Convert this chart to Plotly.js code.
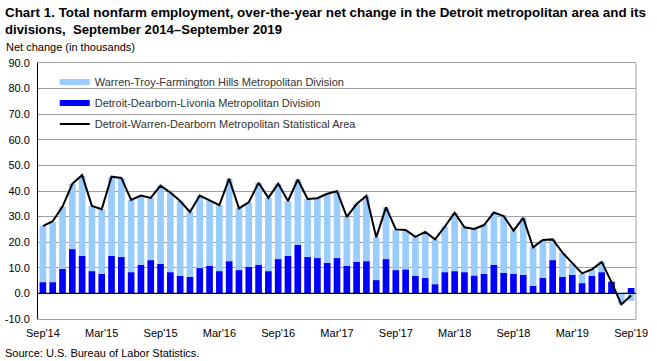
<!DOCTYPE html>
<html>
<head>
<meta charset="utf-8">
<script src="https://cdn.plot.ly/plotly-3.0.1.min.js"></script>
<style>
  html, body { margin: 0; padding: 0; background: #ffffff; }
  #chart { width: 657px; height: 361px; }
</style>
</head>
<body>
<div id="chart"></div>
<script>
// Months (categories)
const months = [
  "Sep 2014","Oct 2014","Nov 2014","Dec 2014",
  "Jan 2015","Feb 2015","Mar 2015","Apr 2015","May 2015","Jun 2015","Jul 2015","Aug 2015","Sep 2015","Oct 2015","Nov 2015","Dec 2015",
  "Jan 2016","Feb 2016","Mar 2016","Apr 2016","May 2016","Jun 2016","Jul 2016","Aug 2016","Sep 2016","Oct 2016","Nov 2016","Dec 2016",
  "Jan 2017","Feb 2017","Mar 2017","Apr 2017","May 2017","Jun 2017","Jul 2017","Aug 2017","Sep 2017","Oct 2017","Nov 2017","Dec 2017",
  "Jan 2018","Feb 2018","Mar 2018","Apr 2018","May 2018","Jun 2018","Jul 2018","Aug 2018","Sep 2018","Oct 2018","Nov 2018","Dec 2018",
  "Jan 2019","Feb 2019","Mar 2019","Apr 2019","May 2019","Jun 2019","Jul 2019","Aug 2019","Sep 2019"
];

// Detroit-Dearborn-Livonia Metropolitan Division (thousands)
const detroitDearborn = [
  4.4, 4.4, 9.6, 17.3,
  14.6, 8.7, 7.6, 14.6, 14.2, 8.3, 11.1, 13.0, 11.5, 8.3, 6.8, 6.4,
  9.9, 10.7, 8.7, 12.6, 9.1, 10.3, 11.1, 8.7, 13.4, 14.6, 18.9, 14.2,
  13.8, 11.9, 13.8, 10.7, 12.3, 12.6, 5.2, 13.4, 9.1, 9.4, 6.8, 6.0,
  3.6, 8.3, 8.7, 8.3, 7.0, 7.6, 11.1, 8.0, 7.6, 7.2, 2.9, 6.0,
  13.0, 6.4, 7.2, 4.0, 6.8, 8.3, 4.6, 0.0, 2.1
];

// Warren-Troy-Farmington Hills Metropolitan Division (thousands)
const warrenTroy = [
  21.9, 23.5, 24.3, 25.5,
  31.3, 25.5, 25.3, 31.0, 30.9, 28.2, 27.1, 24.3, 30.6, 31.1, 29.3, 25.4,
  28.3, 25.5, 25.8, 32.2, 24.4, 25.3, 32.1, 28.6, 29.5, 21.5, 25.6, 22.7,
  23.4, 27.0, 26.1, 19.2, 22.6, 25.5, 16.7, 20.2, 15.9, 15.1, 15.4, 17.4,
  17.5, 17.8, 22.7, 17.7, 18.3, 19.3, 20.5, 22.5, 16.9, 22.3, 15.4, 14.9,
  8.1, 9.5, 4.5, 3.5, 2.7, 4.1, 0.0, -4.3, -2.9
];

// Detroit-Warren-Dearborn Metropolitan Statistical Area (thousands)
const detroitMSA = [
  26.3, 28.2, 33.9, 42.8,
  46.2, 34.2, 32.9, 45.6, 45.1, 36.5, 38.2, 37.3, 42.1, 39.4, 36.1, 31.8,
  38.2, 36.2, 34.5, 44.8, 33.2, 35.6, 43.2, 37.3, 42.9, 36.1, 44.5, 36.9,
  37.2, 38.9, 39.9, 29.9, 34.9, 38.1, 21.9, 33.6, 25.0, 24.8, 22.1, 24.0,
  21.1, 26.1, 31.5, 25.8, 25.2, 26.7, 31.6, 30.2, 24.5, 29.5, 18.0, 20.9,
  21.1, 15.9, 11.7, 7.8, 9.4, 12.3, 4.4, -4.3, -0.8
];

// Tick labels
const tickMonths = ["Sep 2014","Mar 2015","Sep 2015","Mar 2016","Sep 2016","Mar 2017","Sep 2017","Mar 2018","Sep 2018","Mar 2019","Sep 2019"];
const tickLabels = ["Sep'14","Mar'15","Sep'15","Mar'16","Sep'16","Mar'17","Sep'17","Mar'18","Sep'18","Mar'19","Sep'19"];
const yTicks = [-10, 0, 10, 20, 30, 40, 50, 60, 70, 80, 90];
const yTickLabels = ["-10.0","0.0","10.0","20.0","30.0","40.0","50.0","60.0","70.0","80.0","90.0"];

const names = [
  "Warren-Troy-Farmington Hills Metropolitan Division",
  "Detroit-Dearborn-Livonia Metropolitan Division",
  "Detroit-Warren-Dearborn Metropolitan Statistical Area"
];

const titleLine1 = "Chart 1. Total nonfarm employment, over-the-year net change in the Detroit metropolitan area and its";
const titleLine2 = "divisions,  September 2014\u2013September 2019";

const LIGHT = "#99CCFF";
const DARK = "#0000FF";
const FONT = "'Liberation Sans', Arial, sans-serif";

const traces = [
  { type: "bar", x: months, y: detroitDearborn, name: names[1], marker: { color: DARK },
    legendgroup: "g2", showlegend: false },
  { type: "bar", x: months, y: warrenTroy, name: names[0], marker: { color: LIGHT },
    legendgroup: "g1", showlegend: false },
  { type: "scatter", mode: "lines", x: months, y: detroitMSA, name: names[2],
    line: { color: "#000000", width: 2 }, legendgroup: "g3", showlegend: false },
  // legend-only entries (short thick strokes like the original key)
  { type: "scatter", mode: "lines", x: [null], y: [null], name: names[0],
    line: { color: LIGHT, width: 6 }, legendgroup: "g1", legendrank: 1 },
  { type: "scatter", mode: "lines", x: [null], y: [null], name: names[1],
    line: { color: DARK, width: 6 }, legendgroup: "g2", legendrank: 2 },
  { type: "scatter", mode: "lines", x: [null], y: [null], name: names[2],
    line: { color: "#000000", width: 2 }, legendgroup: "g3", legendrank: 3 }
];

const layout = {
  width: 657, height: 361,
  margin: { l: 38, r: 21, t: 63, b: 42, pad: 0 },
  paper_bgcolor: "#ffffff", plot_bgcolor: "#ffffff",
  font: { family: FONT, size: 11, color: "#000000" },
  barmode: "relative",
  bargap: 0.32,
  showlegend: true,
  legend: {
    x: 0.028, xanchor: "left", y: 0.982, yanchor: "top",
    bgcolor: "rgba(0,0,0,0)", borderwidth: 0,
    font: { family: FONT, size: 11, color: "#333333" },
    traceorder: "grouped", tracegroupgap: 2, itemwidth: 30
  },
  xaxis: {
    type: "category",
    categoryorder: "array", categoryarray: months,
    range: [-0.5, months.length - 0.5],
    tickmode: "array", tickvals: tickMonths, ticktext: tickLabels,
    tickangle: 0, ticklabelstandoff: 4,
    ticks: "", showgrid: false, zeroline: false,
    showline: true, linecolor: "#a0a0a0", linewidth: 1, mirror: true,
    tickfont: { family: FONT, size: 11, color: "#000000" },
    automargin: false
  },
  yaxis: {
    range: [-10, 90],
    tickmode: "array", tickvals: yTicks, ticktext: yTickLabels,
    ticks: "", ticklen: 0, ticklabelstandoff: 5,
    showgrid: true, gridcolor: "#a0a0a0", gridwidth: 1,
    zeroline: false,
    showline: true, linecolor: "#000000", linewidth: 1,
    tickfont: { family: FONT, size: 11, color: "#000000" },
    automargin: false
  },
  shapes: [
    { type: "line", xref: "paper", yref: "paper", x0: 1, x1: 1, y0: 0, y1: 1,
      line: { color: "#a0a0a0", width: 1 } },
    { type: "line", xref: "paper", yref: "y", x0: 0, x1: 1, y0: 0, y1: 0,
      line: { color: "#000000", width: 1.2 }, layer: "above" }
  ],
  annotations: [
    { name: "t1", text: titleLine1, xref: "paper", yref: "paper",
      x: -0.059, y: 1, xanchor: "left", yanchor: "middle", yshift: 51,
      showarrow: false, font: { family: FONT, size: 13.6, weight: "bold", color: "#000000" } },
    { name: "t2", text: titleLine2, xref: "paper", yref: "paper",
      x: -0.059, y: 1, xanchor: "left", yanchor: "middle", yshift: 34,
      showarrow: false, font: { family: FONT, size: 13.6, weight: "bold", color: "#000000" } },
    { text: "Net change (in thousands)", xref: "paper", yref: "paper",
      x: -0.057, y: 1.0, xanchor: "left", yanchor: "bottom", yshift: 8,
      showarrow: false, font: { family: FONT, size: 11, color: "#000000" } },
    { text: "Source: U.S. Bureau of Labor Statistics.", xref: "paper", yref: "paper",
      x: -0.059, y: 0, xanchor: "left", yanchor: "top", yshift: -26,
      showarrow: false, font: { family: FONT, size: 11, color: "#000000" } }
  ]
};

// Fit the bold title lines to the width of the original's narrow face.
function fitTitle(gd) {
  const widths = {};
  widths[titleLine1] = 641;
  widths[titleLine2] = 277;
  gd.querySelectorAll("text.annotation-text").forEach(function (t) {
    const w = widths[t.textContent];
    if (!w) return;
    const box = t.getBBox();
    t.setAttribute("text-anchor", "start");
    t.setAttribute("x", String(box.x));
    t.setAttribute("textLength", String(w));
    t.setAttribute("lengthAdjust", "spacingAndGlyphs");
    const grp = t.parentNode;
    if (grp) {
      grp.querySelectorAll("rect").forEach(function (r) {
        r.setAttribute("x", String(box.x));
        r.setAttribute("width", String(w));
      });
    }
  });
}

Plotly.newPlot("chart", traces, layout, { displayModeBar: false, staticPlot: true })
  .then(function (gd) { fitTitle(gd); });
</script>
</body>
</html>
